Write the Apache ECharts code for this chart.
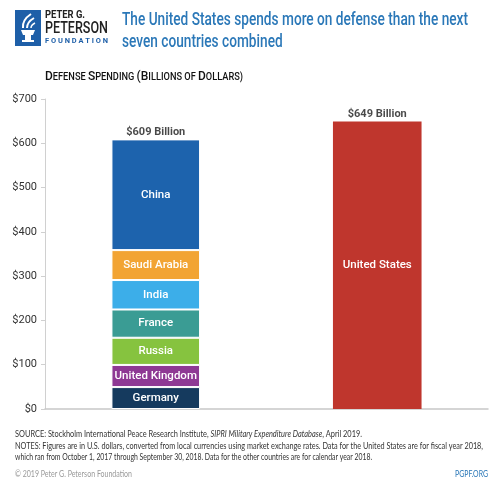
<!DOCTYPE html>
<html lang="en">
<head>
    <meta charset="UTF-8">
    <title>Defense spending</title>
    <script src="https://cdn.jsdelivr.net/npm/echarts@6/dist/echarts.min.js"></script>
    <style>
        html, body { margin: 0; padding: 0; background: #fff; }
        #graph { width: 503px; height: 489px; }
    </style>
</head>
<body>
<div id="graph"></div>
<script>
    // data
    var groups = ['Next seven countries', 'United States'];
    var countries = ['Germany', 'United Kingdom', 'Russia', 'France', 'India', 'Saudi Arabia', 'China'];
    var countryValues = [49.5, 50.0, 61.4, 63.8, 66.5, 67.6, 250.0];
    var countryColors = ['#153a5e', '#8e3994', '#86c33f', '#3a9c94', '#3caee9', '#f2a433', '#1d63ad'];
    var usValue = 649;
    var usColor = '#bf362d';
    var yTicks = [0, 100, 200, 300, 400, 500, 600, 700];

    var FONT = 'Roboto, "Noto Sans", sans-serif';
    var FOOT = 'Lato, Roboto, sans-serif';

    var myChart = echarts.init(document.getElementById('graph'));

    // text measuring, used to squeeze texts to the narrow widths of the original
    var ctx = document.createElement('canvas').getContext('2d');
    function tw(font, text) { ctx.font = font; return ctx.measureText(text).width; }
    function fit(w, target) { return target / w; }

    var total = 0;
    for (var i = 0; i < countryValues.length; i++) total += countryValues[i];

    var series = [];
    for (var j = 0; j < countries.length; j++) {
        series.push({
            name: countries[j],
            type: 'bar',
            stack: 'all',
            barWidth: '40%',
            data: [countryValues[j], '-'],
            itemStyle: { color: countryColors[j], borderColor: '#fff', borderWidth: 1 },
            label: {
                show: true,
                position: 'inside',
                formatter: '{a}',
                color: '#fff',
                fontFamily: FONT,
                fontWeight: 500,
                fontSize: 11.5
            }
        });
    }
    series.push({
        name: 'United States',
        type: 'bar',
        stack: 'all',
        barWidth: '40%',
        data: ['-', usValue],
        itemStyle: { color: usColor },
        label: {
            show: true,
            position: 'inside',
            formatter: '{a}',
            color: '#fff',
            fontFamily: FONT,
            fontWeight: 500,
            fontSize: 11.5
        }
    });
    // totals above bars
    series.push({
        name: 'total',
        type: 'scatter',
        symbolSize: 0,
        silent: true,
        data: [[0, Math.round(total)], [1, usValue]],
        label: {
            show: true,
            position: 'top',
            distance: 2,
            formatter: function (p) { return '$' + p.value[1] + ' Billion'; },
            color: '#1a1a1a',
            fontFamily: FONT,
            fontWeight: 'bold',
            fontSize: 11
        }
    });

    // small caps subtitle
    var subParts = [];
    (function () {
        var words = 'Defense Spending (Billions of Dollars)'.split(' ');
        for (var k = 0; k < words.length; k++) {
            var w = words[k];
            if (k > 0) subParts.push(['s', ' ']);
            if (w.charAt(0) === '(') { subParts.push(['b', '(']); w = w.slice(1); }
            if (w === 'of') { subParts.push(['s', 'OF']); continue; }
            subParts.push(['b', w.charAt(0).toUpperCase()]);
            subParts.push(['s', w.slice(1).toUpperCase()]);
        }
    })();
    var subFonts = { b: '500 13px ' + FONT, s: '500 10px ' + FONT };
    var subText = '', subW = 0;
    for (var q = 0; q < subParts.length; q++) {
        subText += '{' + subParts[q][0] + '|' + subParts[q][1] + '}';
        subW += tw(subFonts[subParts[q][0]], subParts[q][1]);
    }

    var titleFont = '500 19px ' + FONT;
    var title1 = 'The United States spends more on defense than the next';
    var title2 = 'seven countries combined';
    var titleScale = fit(tw(titleFont, title1), 346);

    var footFont = '9.5px ' + FOOT;
    var footItal = 'italic 9.5px ' + FOOT;
    var src1 = 'SOURCE: Stockholm International Peace Research Institute, ';
    var src2 = 'SIPRI Military Expenditure Database';
    var src3 = ', April 2019.';
    var note1 = 'NOTES: Figures are in U.S. dollars, converted from local currencies using market exchange rates. Data for the United States are for fiscal year 2018,';
    var note2 = 'which ran from October 1, 2017 through September 30, 2018. Data for the other countries are for calendar year 2018.';
    var copy = '\u00a9 2019 Peter G. Peterson Foundation';
    var site = 'PGPF.ORG';
    var srcW = tw(footFont, src1) + tw(footItal, src2) + tw(footFont, src3);

    function line(x, y, text, font, fill, target, align) {
        return {
            type: 'text', x: x, y: y, scaleX: fit(tw(font, text), target),
            style: { text: text, font: font, fill: fill, align: align || 'left', verticalAlign: 'middle' }
        };
    }

    var option = {
        animation: false,
        textStyle: { fontFamily: FONT },
        grid: { left: 45, right: 15, top: 99, bottom: 80 },
        xAxis: {
            type: 'category',
            data: groups,
            axisLine: { lineStyle: { color: '#c8c8c8', width: 1.5 } },
            axisTick: { show: false },
            axisLabel: { show: false }
        },
        yAxis: {
            type: 'value',
            min: yTicks[0],
            max: yTicks[yTicks.length - 1],
            interval: 100,
            axisLine: { show: true, lineStyle: { color: '#d0d0d0' } },
            axisTick: { show: true, length: 4, lineStyle: { color: '#d0d0d0' } },
            splitLine: { show: false },
            axisLabel: {
                formatter: '${value}',
                color: '#333',
                fontFamily: FONT,
                fontSize: 11,
                margin: 8
            }
        },
        graphic: [
            // logo
            { type: 'rect', shape: { x: 15, y: 10, width: 26, height: 36 }, style: { fill: '#1e5fa8' } },
            { type: 'polygon', shape: { points: [[21, 30], [35, 30], [33, 35], [23, 35]] }, style: { fill: '#fff' } },
            { type: 'rect', shape: { x: 25, y: 35, width: 6, height: 5 }, style: { fill: '#fff' } },
            { type: 'rect', shape: { x: 22, y: 40, width: 12, height: 2 }, style: { fill: '#fff' } },
            { type: 'bezierCurve', shape: { x1: 23, y1: 28, x2: 31, y2: 14, cpx1: 22, cpy1: 20 }, style: { stroke: '#fff', lineWidth: 2, fill: null } },
            { type: 'bezierCurve', shape: { x1: 27, y1: 28, x2: 34, y2: 18, cpx1: 27, cpy1: 22 }, style: { stroke: '#fff', lineWidth: 2, fill: null } },
            { type: 'bezierCurve', shape: { x1: 31, y1: 28, x2: 35, y2: 23, cpx1: 31, cpy1: 25 }, style: { stroke: '#fff', lineWidth: 1.5, fill: null } },
            line(45, 15, 'PETER G.', 'bold 11px ' + FONT, '#222', 40),
            line(45, 29, 'PETERSON', '500 17px ' + FONT, '#222', 63),
            line(45, 41.5, 'F O U N D A T I O N', 'bold 7px ' + FONT, '#1e5fa8', 63),
            // title
            { type: 'text', x: 122, y: 20, scaleX: titleScale, style: { text: title1, font: titleFont, fill: '#2b78b8', verticalAlign: 'middle' } },
            { type: 'text', x: 122, y: 42, scaleX: titleScale, style: { text: title2, font: titleFont, fill: '#2b78b8', verticalAlign: 'middle' } },
            // subtitle
            { type: 'text', x: 45, y: 77, scaleX: fit(subW, 198), style: {
                text: subText, verticalAlign: 'middle',
                rich: {
                    b: { fontFamily: FONT, fontWeight: 500, fontSize: 13, fill: '#111' },
                    s: { fontFamily: FONT, fontWeight: 500, fontSize: 10, fill: '#111' }
                } } },
            // footer
            { type: 'text', x: 15, y: 434, scaleX: fit(srcW, 347), style: {
                text: '{n|' + src1 + '}{i|' + src2 + '}{n|' + src3 + '}', verticalAlign: 'middle',
                rich: {
                    n: { fontFamily: FOOT, fontSize: 9.5, fill: '#333' },
                    i: { fontFamily: FOOT, fontSize: 9.5, fontStyle: 'italic', fill: '#333' }
                } } },
            line(15, 446, note1, footFont, '#333', 468),
            line(15, 457, note2, footFont, '#333', 357),
            line(15, 474, copy, footFont, '#9a9a9a', 117),
            line(488, 474, site, '10px ' + FOOT, '#2b78b8', 33, 'right')
        ],
        series: series
    };

    myChart.setOption(option);
</script>
</body>
</html>
